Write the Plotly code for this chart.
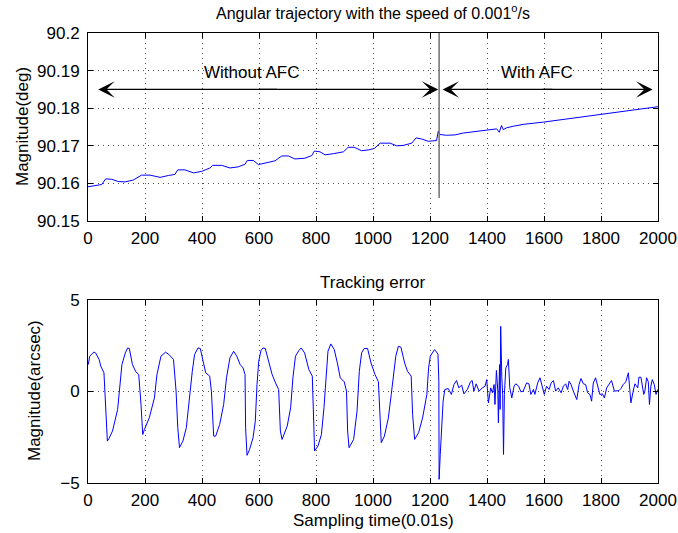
import plotly.graph_objects as go

# ---------------- data ----------------
time_top = [0, 48, 62, 83, 106, 130, 159, 188, 218, 253, 282, 305, 315, 340, 370, 399,
            428, 437, 469, 498, 527, 551, 559, 580, 598, 627, 656, 680, 703, 726, 761,
            785, 794, 814, 832, 861, 896, 913, 934, 960, 984, 1005, 1025, 1060, 1083,
            1106, 1136, 1151, 1171, 1194, 1212, 1223, 1229, 1235, 1258, 1288, 1317,
            1364, 1399, 1434, 1443, 1451, 1457, 1469, 1492, 1527, 1598, 1668, 1738,
            1785, 1855, 1890, 1937, 2000]
angle_top = [90.1591, 90.1597, 90.1612, 90.1611, 90.1605, 90.1604, 90.1609, 90.1622,
             90.1622, 90.1616, 90.1621, 90.1624, 90.1636, 90.1636, 90.1628, 90.1632,
             90.1641, 90.1648, 90.1648, 90.1641, 90.1644, 90.1651, 90.1661, 90.1661,
             90.1650, 90.1655, 90.1660, 90.1673, 90.1673, 90.1665, 90.1667, 90.1674,
             90.1686, 90.1684, 90.1676, 90.1679, 90.1684, 90.1696, 90.1696, 90.1687,
             90.1689, 90.1693, 90.1707, 90.1707, 90.1700, 90.1701, 90.1707, 90.1721,
             90.1718, 90.1712, 90.1712, 90.1714, 90.1739, 90.1730, 90.1728, 90.1729,
             90.1734, 90.1739, 90.1742, 90.1745, 90.1736, 90.1754, 90.1743, 90.1748,
             90.1752, 90.1757, 90.1763, 90.1770, 90.1777, 90.1782, 90.1788, 90.1793,
             90.1798, 90.1804]

time_err = [1, 6, 21, 27, 39, 45, 56, 62, 68, 74, 86, 104, 113, 119, 131, 139, 145, 156,
            168, 178, 186, 192, 198, 215, 233, 242, 256, 272, 284, 300, 309, 315, 321,
            333, 345, 356, 366, 374, 386, 394, 404, 413, 427, 433, 441, 448, 462, 476,
            486, 498, 511, 522, 534, 544, 551, 553, 558, 567, 579, 587, 593, 599, 607,
            614, 622, 634, 646, 658, 669, 675, 681, 699, 711, 719, 728, 740, 748, 760,
            775, 787, 791, 795, 807, 819, 828, 836, 842, 852, 864, 875, 885, 899, 907,
            911, 916, 932, 944, 952, 960, 969, 981, 993, 1007, 1019, 1025, 1029, 1040,
            1054, 1064, 1072, 1080, 1089, 1098, 1111, 1121, 1134, 1139, 1146, 1160, 1174,
            1189, 1195, 1201, 1216, 1228, 1231, 1232, 1236, 1240, 1246, 1252, 1264, 1275,
            1284, 1293, 1301, 1311, 1319, 1331, 1342, 1348, 1354, 1362, 1372, 1384, 1393,
            1399, 1405, 1413, 1419, 1425, 1428, 1433, 1438, 1440, 1444, 1446, 1448, 1452,
            1455, 1458, 1461, 1466, 1472, 1475, 1480, 1487, 1495, 1501, 1511, 1519, 1527,
            1539, 1547, 1554, 1563, 1568, 1578, 1586, 1594, 1601, 1609, 1618, 1625, 1633,
            1641, 1650, 1660, 1668, 1676, 1683, 1688, 1695, 1703, 1709, 1715, 1723, 1730,
            1738, 1746, 1753, 1761, 1767, 1773, 1781, 1788, 1796, 1805, 1812, 1820, 1828,
            1837, 1847, 1855, 1863, 1870, 1878, 1887, 1896, 1901, 1905, 1913, 1919, 1929,
            1933, 1940, 1945, 1950, 1954, 1960, 1966, 1970, 1975, 1980, 1987, 1993, 1999]
err_vals = [1.47, 1.93, 2.16, 2.10, 1.75, 1.38, 1.02, -0.89, -2.71, -2.56, -2.16, -0.98,
            0.38, 1.47, 2.11, 2.38, 2.35, 1.47, 1.07, 0.93, -0.71, -2.35, -2.07, -1.44,
            -0.35, 0.93, 1.93, 2.15, 2.02, 1.75, 0.02, -1.98, -3.07, -2.71, -1.98, -0.16,
            1.11, 2.02, 2.38, 2.35, 1.56, 1.02, 0.84, 0.02, -2.44, -2.44, -1.80, -0.71,
            0.75, 1.84, 2.20, 1.93, 1.47, 1.29, 0.93, -1.98, -3.49, -3.16, -2.53, -1.62,
            0.38, 1.65, 2.24, 2.38, 2.35, 1.65, 0.93, 0.47, 0.11, -2.16, -2.62, -1.89,
            -0.89, 0.75, 1.93, 2.24, 2.38, 2.11, 1.20, 0.84, -1.98, -3.25, -2.98, -2.35,
            -0.89, 0.93, 2.20, 2.60, 2.29, 1.56, 0.75, 0.53, 0.02, -2.16, -3.07, -2.62,
            -1.07, 1.11, 2.11, 2.35, 2.35, 1.56, 0.93, 0.53, -1.62, -2.80, -2.44, -1.44,
            -0.16, 0.93, 1.93, 2.47, 2.42, 1.56, 1.11, 0.84, -1.25, -2.62, -2.25, -1.44,
            -0.16, 1.29, 1.93, 2.29, 2.05, 0.56, -4.80, -3.44, -2.35, -0.53, 0.11, 0.16,
            -0.16, 0.38, 0.60, 0.20, 0.35, -0.13, 0.11, 0.53, 0.60, 0.02, 0.42, 0.02,
            0.20, 0.29, 0.65, -0.62, 0.20, -0.07, 0.38, -0.71, 1.15, 0.02, -1.71, 1.47,
            -0.98, 3.56, 0.75, -0.16, -3.44, -0.16, 1.29, 1.47, 1.75, 0.20, -0.35, 0.29,
            0.42, 0.29, -0.02, 0.02, 0.47, 0.42, -0.16, 0.11, -0.16, 0.47, 0.75, 0.29,
            -0.16, 0.29, 0.11, 0.47, 0.60, 0.02, 0.20, -0.07, 0.29, 0.42, 0.11, 0.56,
            0.38, 0.02, -0.25, -0.44, 0.38, 0.71, 0.42, 0.38, -0.07, -0.16, -0.53, 0.47,
            0.75, 0.38, -0.16, -0.13, -0.35, 0.20, 0.38, 0.60, 0.02, 0.02, 0.05, 0.16,
            0.38, 0.53, 1.02, 0.11, -0.62, 0.02, 0.42, 0.20, 0.78, 0.78, 0.38, -0.16,
            0.02, 0.75, 0.53, -0.71, 0.29, 0.65, 0.38, -0.16, 0.11]

x_ticks = [0, 200, 400, 600, 800, 1000, 1200, 1400, 1600, 1800, 2000]
top_y_ticks = [90.15, 90.16, 90.17, 90.18, 90.19, 90.2]
top_y_labels = ["90.15", "90.16", "90.17", "90.18", "90.19", "90.2"]
bot_y_ticks = [-5, 0, 5]

top_title = "Angular trajectory with the speed of 0.001<sup>o</sup>/s"
bot_title = "Tracking error"
top_ylabel = "Magnitude(deg)"
bot_ylabel = "Magnitude(arcsec)"
xlabel = "Sampling time(0.01s)"
region_labels = ["Without AFC", "With AFC"]

# switch point / annotation positions (data units)
switch_x = 1232
switch_y_low = 90.1561
arrow_y = 90.185
arrow_without = (36, 1229)
arrow_with = (1244, 1981)
label_y = 90.1895
label_x = [574, 1574]

# ---------------- layout helpers ----------------
W, H = 678, 533
FONT = "Liberation Sans, Arial, Helvetica, sans-serif"
FS = 17


def px(x):
    return x / W


def py(y):
    return 1 - y / H


blue = "#0000ff"
grid_col = "#505050"

fig = go.Figure()
fig.add_trace(go.Scatter(x=time_top, y=angle_top, mode="lines",
                         line=dict(color=blue, width=1), xaxis="x", yaxis="y",
                         showlegend=False, hoverinfo="skip"))
fig.add_trace(go.Scatter(x=time_err, y=err_vals, mode="lines",
                         line=dict(color=blue, width=1), xaxis="x2", yaxis="y2",
                         showlegend=False, hoverinfo="skip"))

axis_common = dict(
    showline=True, linecolor="black", linewidth=1, mirror="ticks",
    ticks="inside", ticklen=5, tickcolor="black", tickwidth=1,
    showgrid=True, gridcolor=grid_col, gridwidth=1, griddash="1px,4px",
    zeroline=False, tickfont=dict(family=FONT, size=FS, color="black"),
)

xdom = [px(88), px(658)]
fig.update_layout(
    width=W, height=H,
    margin=dict(l=0, r=0, t=0, b=0, pad=0, autoexpand=False),
    paper_bgcolor="white", plot_bgcolor="white", showlegend=False,
    font=dict(family=FONT, size=FS, color="black"),
    xaxis=dict(axis_common, domain=xdom, range=[0, 2000], tickvals=x_ticks,
               anchor="y", ticklabelstandoff=2),
    yaxis=dict(axis_common, domain=[py(221), py(33)], range=[90.15, 90.2],
               tickvals=top_y_ticks, ticktext=top_y_labels, anchor="x",
               ticklabelstandoff=4),
    xaxis2=dict(axis_common, domain=xdom, range=[0, 2000], tickvals=x_ticks,
                anchor="y2", ticklabelstandoff=2),
    yaxis2=dict(axis_common, domain=[py(483), py(300)], range=[-5, 5],
                tickvals=bot_y_ticks, anchor="x2", ticklabelstandoff=4),
)

# switch line
fig.add_shape(type="line", xref="x", yref="y", x0=switch_x, x1=switch_x,
              y0=switch_y_low, y1=90.2, line=dict(color="#707070", width=1.5))

# double arrows (two half-arrows that overlap in the middle)
for (a, b) in (arrow_without, arrow_with):
    mid = (a + b) / 2
    overlap = 0.03 * (b - a)
    for end, start in ((a, mid + overlap), (b, mid - overlap)):
        fig.add_annotation(x=end, y=arrow_y, ax=start, ay=arrow_y, xref="x", yref="y",
                           axref="x", ayref="y", text="", showarrow=True,
                           arrowhead=3, arrowsize=2.5, arrowwidth=1.1,
                           arrowcolor="black", standoff=0, startstandoff=0)

for t, lx in zip(region_labels, label_x):
    fig.add_annotation(x=lx, y=label_y, xref="x", yref="y", text=t, showarrow=False,
                       xanchor="center", yanchor="middle",
                       font=dict(family=FONT, size=FS, color="black"))


def label(text, x, y, angle=0, size=FS):
    fig.add_annotation(x=px(x), y=py(y), xref="paper", yref="paper", text=text,
                       showarrow=False, textangle=angle, xanchor="center",
                       yanchor="middle", font=dict(family=FONT, size=size, color="black"))


# titles and labels
label(top_title, 373, 12, size=16)
label(bot_title, 373, 282)
label(xlabel, 373, 520)
label(top_ylabel, 22, 127, angle=-90)
label(bot_ylabel, 34, 391, angle=-90)

# remove the default 8px page margin so the figure sits at the window's corner
fig.write_html("out.html",
               config={"displayModeBar": False, "staticPlot": True},
               post_script="document.body.style.margin='0';"
                           "document.body.style.overflow='hidden';")
